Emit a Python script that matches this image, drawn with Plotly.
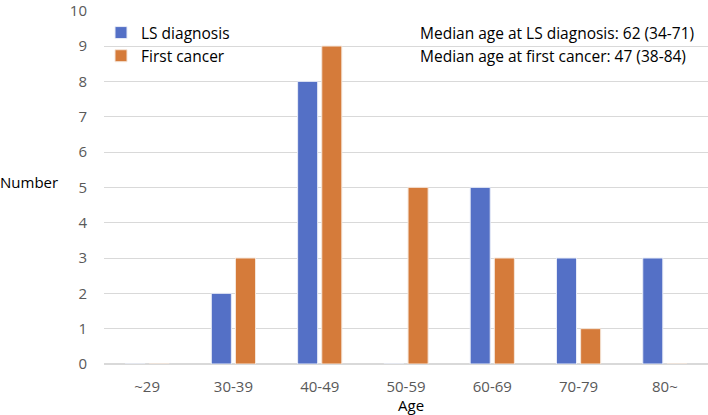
import plotly.graph_objects as go

categories = ["~29", "30-39", "40-49", "50-59", "60-69", "70-79", "80~"]
ls_diagnosis = [0, 2, 8, 0, 5, 3, 3]
first_cancer = [0, 3, 9, 5, 3, 1, 0]
annotation_lines = ["Median age at LS diagnosis: 62 (34-71)",
                    "Median age at first cancer: 47 (38-84)"]

font_family = "Open Sans, Noto Sans, sans-serif"

fig = go.Figure()
fig.add_trace(go.Bar(x=categories, y=ls_diagnosis, name="LS diagnosis",
                     marker=dict(color="#5470C6", line=dict(color="#E8ECF7", width=1))))
fig.add_trace(go.Bar(x=categories, y=first_cancer, name="First cancer",
                     marker=dict(color="#D57B3A", line=dict(color="#F5E6DA", width=1))))

H = 415
top, bottom = 10, 51
plot_h = H - top - bottom
plot_w = 604

fig.update_layout(
    width=708, height=H,
    margin=dict(l=104, r=0, t=top, b=bottom, autoexpand=False),
    paper_bgcolor="white", plot_bgcolor="white",
    barmode="group", bargap=0.44, bargroupgap=0.17,
    font=dict(family=font_family, size=14, color="#595959"),
    showlegend=True,
    legend=dict(x=-3 / plot_w, y=(364 - 16) / plot_h, xanchor="left", yanchor="top",
                bgcolor="rgba(0,0,0,0)", font=dict(size=15.5, color="#000000"),
                itemwidth=30, tracegroupgap=0),
    xaxis=dict(showgrid=False, showline=False, ticks="", automargin=False,
               ticklabelstandoff=12, tickfont=dict(size=15, color="#595959")),
    yaxis=dict(range=[0, 10.02], tickvals=list(range(0, 11)), showgrid=True,
               gridcolor="#D9D9D9", gridwidth=1,
               zeroline=True, zerolinecolor="#D9D9D9", showline=False, ticks="",
               automargin=False, ticklabeloverflow="allow",
               ticklabelstandoff=16, tickfont=dict(size=15, color="#595959")),
)

fig.add_annotation(xref="paper", yref="paper", x=-104 / plot_w, y=(364 - 182) / plot_h,
                   xanchor="left", yanchor="middle", xshift=-2,
                   text="Number", showarrow=False, font=dict(size=15, color="#000000"))
fig.add_annotation(xref="paper", yref="paper", x=(411 - 104) / plot_w, y=-(405 - 364) / plot_h,
                   xanchor="center", yanchor="middle",
                   text="Age", showarrow=False, font=dict(size=15, color="#000000"))
for line, yc in zip(annotation_lines, [33, 56]):
    fig.add_annotation(xref="paper", yref="paper", x=(418 - 104) / plot_w, y=(364 - yc) / plot_h,
                       xanchor="left", yanchor="middle",
                       align="left", text=line, showarrow=False,
                       font=dict(size=15.5, color="#000000"))

fig.write_html("out.html", config={"displayModeBar": False},
               post_script="document.body.style.margin='0';")
